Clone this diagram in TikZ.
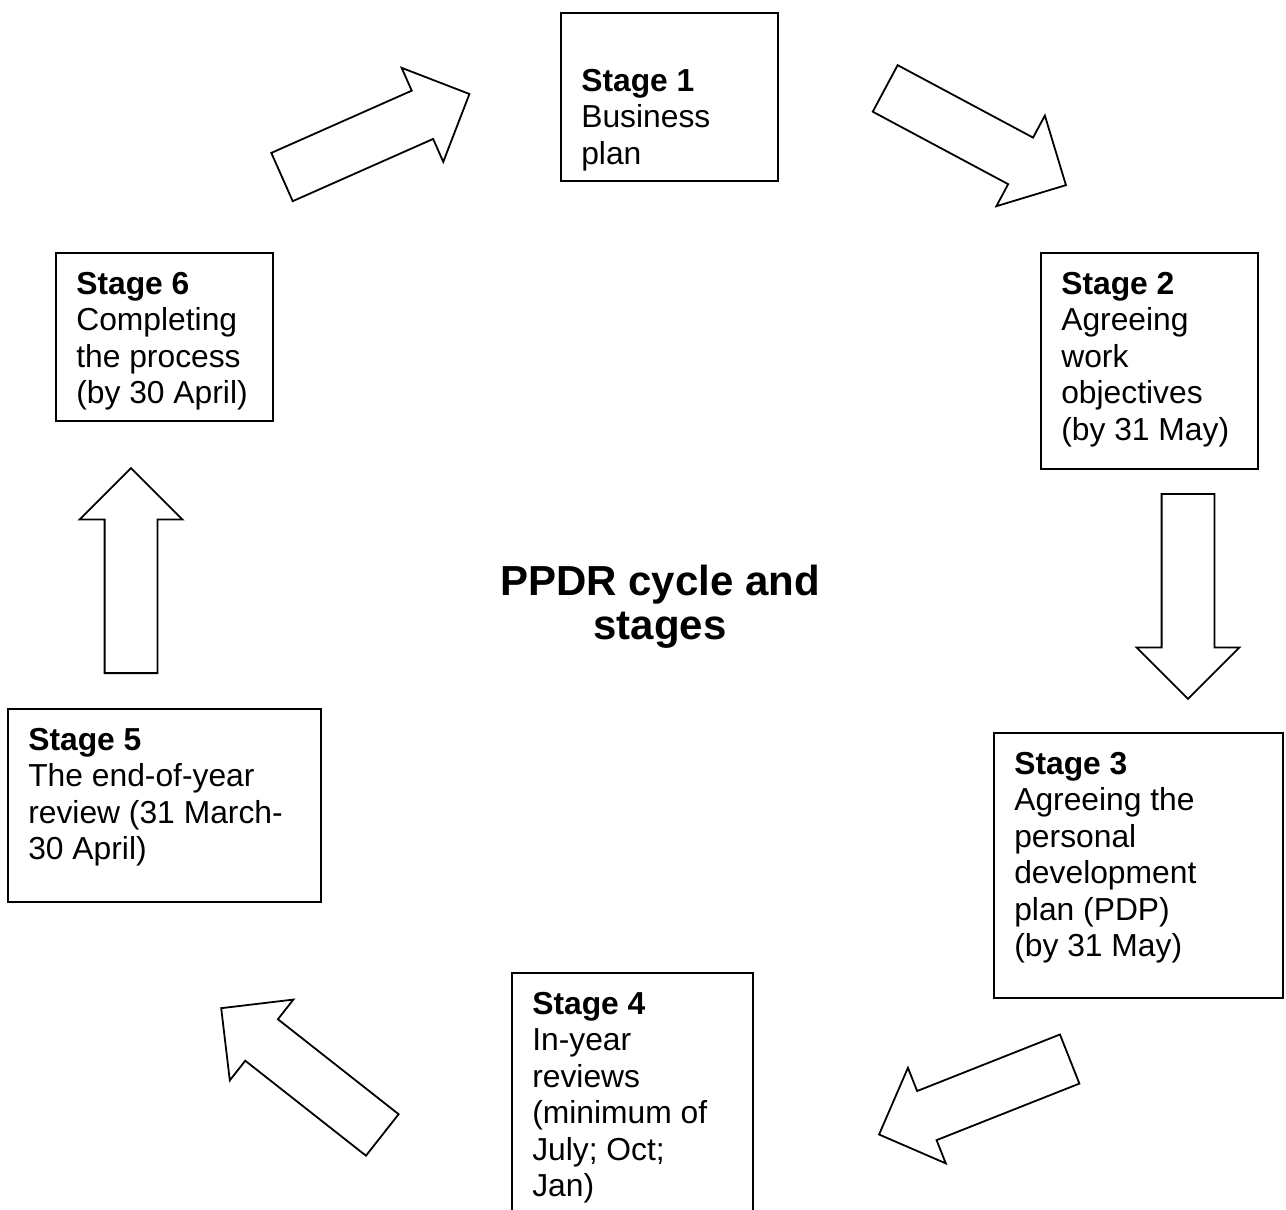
\documentclass[tikz,border=0pt]{standalone}
\usepackage{fontspec}
\setmainfont{Liberation Sans}
\usetikzlibrary{calc,positioning,shapes.arrows}

\begin{document}
\begin{tikzpicture}[x=1pt, y=1pt,
  stagebox/.style={draw, line width=1.8pt, inner sep=0pt},
  stagetext/.style={anchor=north west, align=left, inner sep=0pt, font=\fontsize{31.8}{36.4}\selectfont},
  cyclearrow/.style={draw, line width=1.8pt, single arrow, single arrow head extend=25pt,
    single arrow tip angle=90, minimum height=205pt, inner xsep=0pt, inner ysep=25.5pt, anchor=tail}]
\useasboundingbox (0,0) rectangle (1286,-1210);
%\draw[help lines] (0,0) grid[step=100] (1286,-1210);
\path (669.5,-97) node[stagebox, minimum width=217pt, minimum height=168pt] (s1) {};
\path (1149.5,-361) node[stagebox, minimum width=217pt, minimum height=216pt] (s2) {};
\path (1138.5,-865.5) node[stagebox, minimum width=289pt, minimum height=265pt] (s3) {};
\path (632.5,-1106.5) node[stagebox, minimum width=241pt, minimum height=267pt] (s4) {};
\path (164.5,-805.5) node[stagebox, minimum width=313pt, minimum height=193pt] (s5) {};
\path (164.5,-337) node[stagebox, minimum width=217pt, minimum height=168pt] (s6) {};

\path ([shift={(21,-57)}]s1.north west) node[stagetext] (t1) {\textbf{Stage 1}\\Business\\plan};
\path ([shift={(21,-20)}]s2.north west) node[stagetext] (t2) {\textbf{Stage 2}\\Agreeing\\work\\objectives\\(by 31 May)};
\path ([shift={(21,-20)}]s3.north west) node[stagetext] (t3) {\textbf{Stage 3}\\Agreeing the\\personal\\development\\plan (PDP)\\(by 31 May)};
\path ([shift={(21,-20)}]s4.north west) node[stagetext] (t4) {\textbf{Stage 4}\\In-year\\reviews\\(minimum of\\July; Oct;\\Jan)};
\path ([shift={(21,-20)}]s5.north west) node[stagetext] (t5) {\textbf{Stage 5}\\The end-of-year\\review (31 March-\\30 April)};
\path ([shift={(21,-20)}]s6.north west) node[stagetext] (t6) {\textbf{Stage 6}\\Completing\\the process\\(by 30 April)};

\path (660,-565) node[anchor=north, align=center, inner sep=0pt,
  font=\bfseries\fontsize{42}{44}\selectfont] (title) {PPDR cycle and\\stages};

% the cycle arrows
\path (281.2,-177.4) node[cyclearrow, rotate=23.9] (a61) {};
\path (884.4,-88) node[cyclearrow, rotate=-28.15] (a12) {};
\path (1188,-493) node[cyclearrow, rotate=-90] (a23) {};
\path (1070.5,-1058.7) node[cyclearrow, rotate=-158.4] (a34) {};
\path (383,-1135.5) node[cyclearrow, rotate=141.8] (a45) {};
\path (131,-674) node[cyclearrow, rotate=90] (a56) {};
\end{tikzpicture}
\end{document}
